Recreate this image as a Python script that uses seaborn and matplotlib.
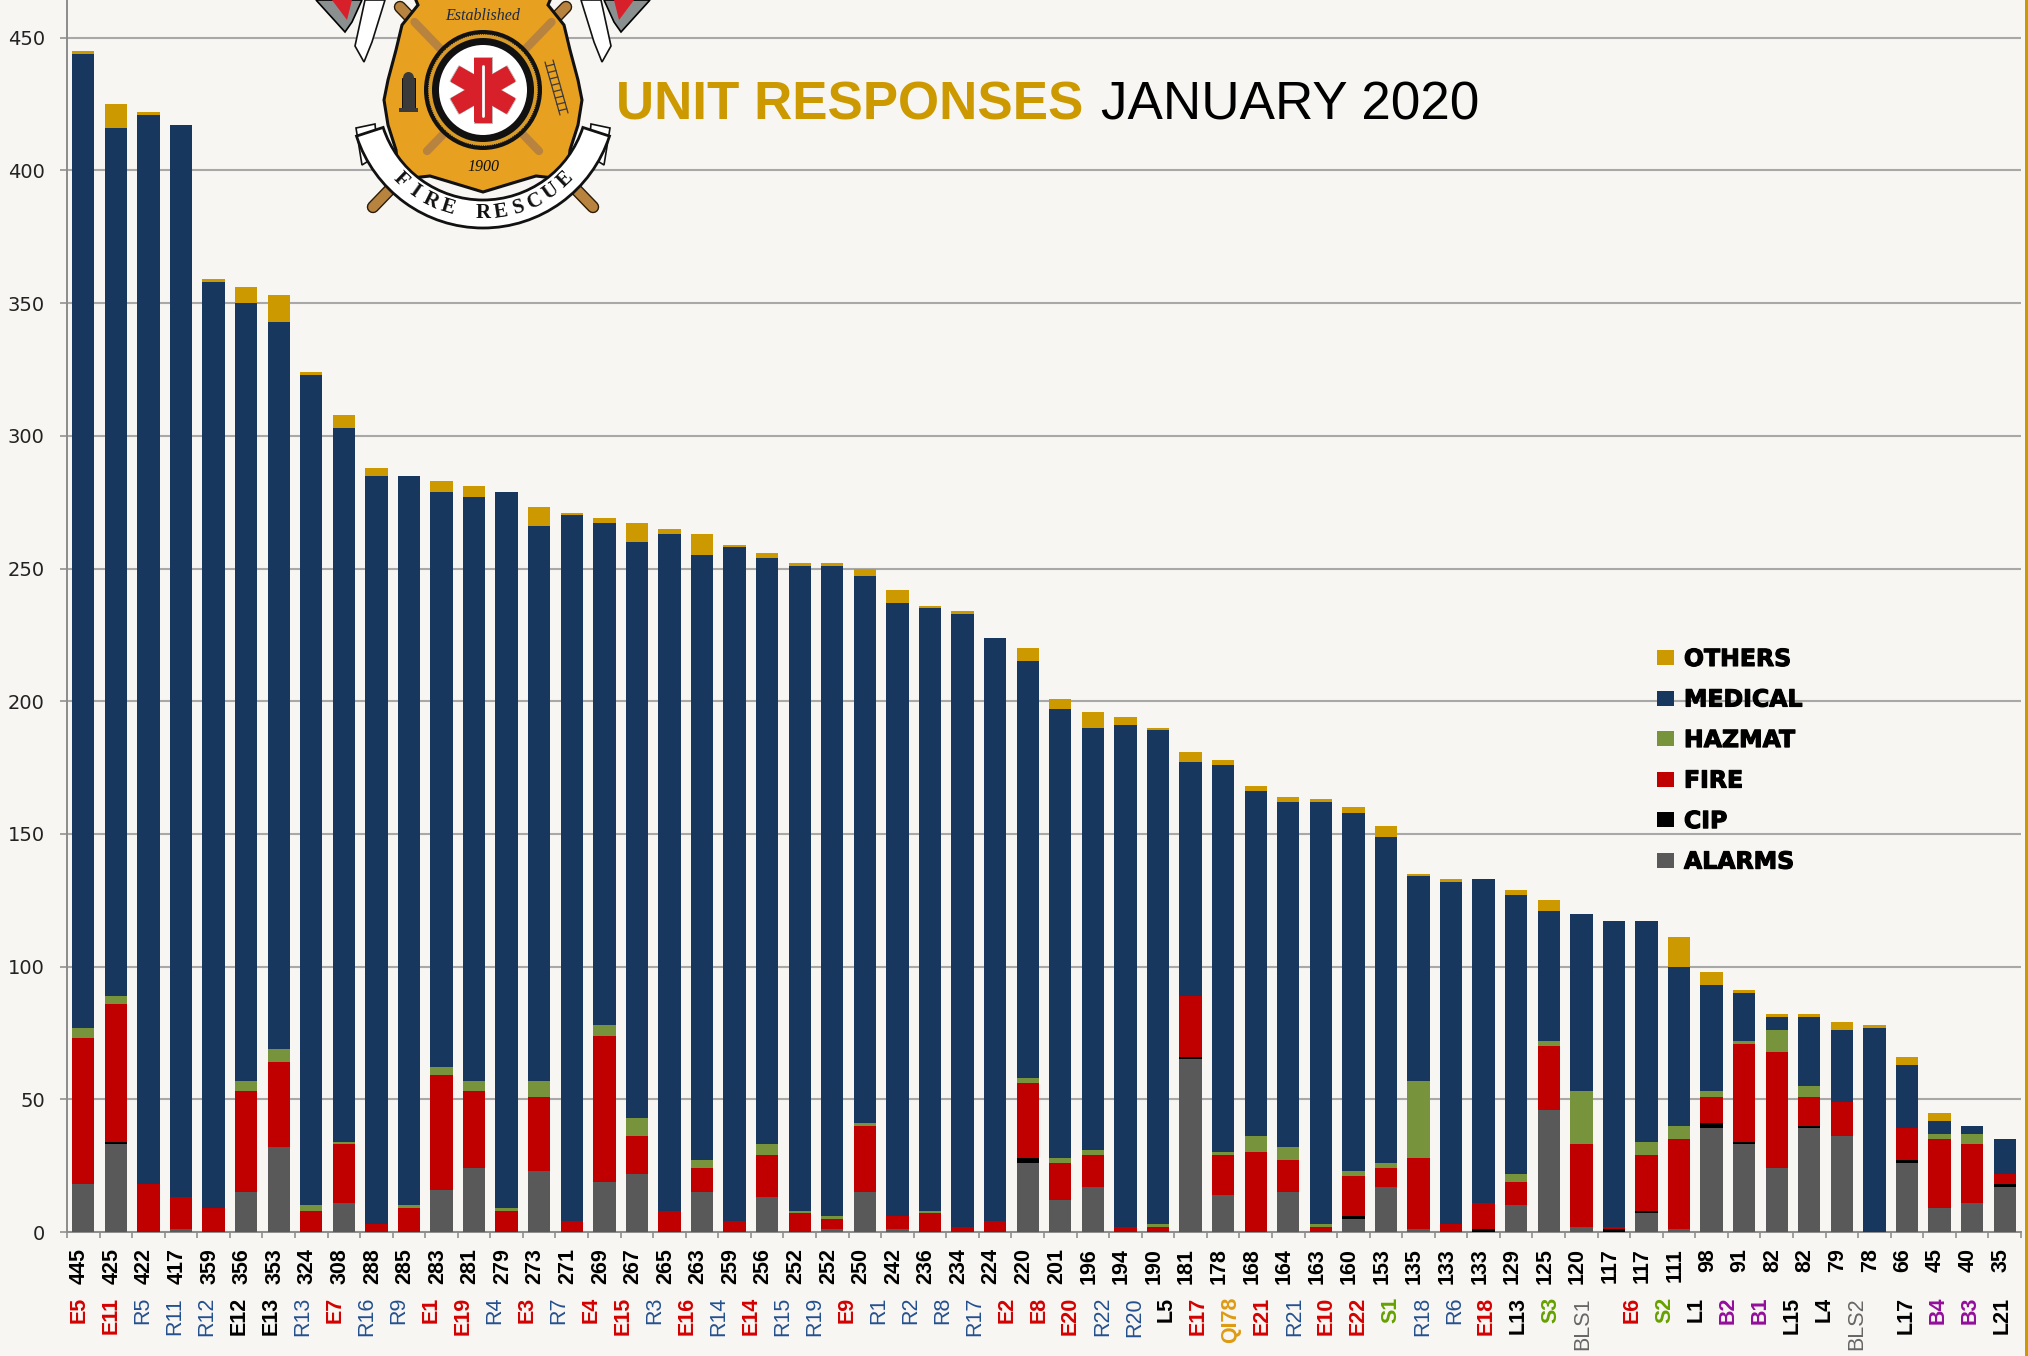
import numpy as np
import pandas as pd
import matplotlib
matplotlib.use("Agg")
import matplotlib.pyplot as plt
import seaborn as sns
from matplotlib.patches import Patch, Polygon, Ellipse, Rectangle, Wedge
from matplotlib.transforms import Affine2D
import matplotlib.patheffects as pe

totals = [445,425,422,417,359,356,353,324,308,288,285,283,281,279,273,271,269,267,265,263,
          259,256,252,252,250,242,236,234,224,220,201,196,194,190,181,178,168,164,163,160,
          153,135,133,133,129,125,120,117,117,111,98,91,82,82,79,78,66,45,40,35]
alarms = [18,33,0,1,0,15,32,0,11,0,0,16,24,0,23,0,19,22,0,15,
          0,13,0,1,15,1,0,0,0,26,12,17,0,0,65,14,0,15,0,5,
          17,1,0,0,10,46,2,0,7,1,39,33,24,39,36,0,26,9,11,17]
cip = [0,1,0,0,0,0,0,0,0,0,0,0,0,0,0,0,0,0,0,0,
       0,0,0,0,0,0,0,0,0,2,0,0,0,0,1,0,0,0,0,1,
       0,0,0,1,0,0,0,1,1,0,2,1,0,1,0,0,1,0,0,1]
fire = [55,52,18,12,9,38,32,8,22,3,9,43,29,8,28,4,55,14,8,9,
        4,16,7,4,25,5,7,2,4,28,14,12,2,2,23,15,30,12,2,15,
        7,27,3,10,9,24,31,1,21,34,10,37,44,11,13,0,12,26,22,4]
hazmat = [4,3,0,0,0,4,5,2,1,0,1,3,4,1,6,0,4,7,0,3,
          0,4,1,1,1,0,1,0,0,2,2,2,0,1,0,1,6,5,1,2,
          2,29,0,0,3,2,20,0,5,5,2,1,8,4,0,0,0,2,4,0]
medical = [367,327,403,404,349,293,274,313,269,282,275,217,220,270,209,266,189,217,255,228,
           254,221,243,245,206,231,227,231,220,157,169,159,189,186,88,146,130,130,159,135,
           123,77,129,122,105,49,67,115,83,60,40,18,5,26,27,77,24,5,3,13]
others = [1,9,1,0,1,6,10,1,5,3,0,4,4,0,7,1,2,7,2,8,
          1,2,1,1,3,5,1,1,0,5,4,6,3,1,4,2,2,2,1,2,
          4,1,1,0,2,4,0,0,0,11,5,1,1,1,3,1,3,3,0,0]
units = ["E5","E11","R5","R11","R12","E12","E13","R13","E7","R16","R9","E1","E19","R4","E3","R7","E4","E15","R3","E16",
         "R14","E14","R15","R19","E9","R1","R2","R8","R17","E2","E8","E20","R22","R20","L5","E17","QI78","E21","R21","E10",
         "E22","S1","R18","R6","E18","L13","S3","BLS1","E6","S2","L1","B2","B1","L15","L4","BLS2","L17","B4","B3","L21"]
unit_slots = list(range(48)) + [48.56,49.56,50.56,51.56,52.56,53.56,54.56,55.56,57.1,58.1,59.1,60.1]
black_engines = ["E12","E13"]
series_names = ["ALARMS","CIP","FIRE","HAZMAT","MEDICAL","OTHERS"]
series_colors = ["#595959","#000000","#C00000","#77933C","#17375E","#CC9900"]
unit_colors = {"E":"#D40000","R":"#24508F","L":"#000000","S":"#66A000","B":"#930E9B","Q":"#DF9A12","BLS":"#666666"}
y_ticks = [0,50,100,150,200,250,300,350,400,450]

W, H = 2028, 1356
BG = "#F7F6F2"
sns.set_theme(style="white")
plt.rcParams["font.family"] = ["Liberation Sans", "DejaVu Sans"]

fig = plt.figure(figsize=(W/100, H/100), dpi=100, facecolor=BG)
ax = fig.add_axes([67/W, 1-1232/H, (2021-67)/W, 1232/H], facecolor="none")

df = pd.DataFrame({"pos":range(len(totals)),"ALARMS":alarms,"CIP":cip,"FIRE":fire,
                   "HAZMAT":hazmat,"MEDICAL":medical,"OTHERS":others})
cum = df[series_names].cumsum(axis=1)
cum["pos"] = df["pos"]
for name, col in reversed(list(zip(series_names, series_colors))):
    sns.barplot(data=cum, x="pos", y=name, color=col, saturation=1, width=0.685,
                errorbar=None, ax=ax, zorder=3, linewidth=0)

ax.set_xlim(-0.5, len(totals)-0.5)
ax.set_ylim(0, 1232/2.654)
ax.set_xlabel(""); ax.set_ylabel("")
ax.set_yticks(y_ticks)
ax.set_yticklabels([str(v) for v in y_ticks], fontsize=14, family="DejaVu Sans", color="#222222")
ax.set_xticks(np.arange(-0.5, len(totals), 1))
ax.set_xticklabels([])
ax.tick_params(axis="x", length=4.5, width=1.2, color="#909090", bottom=True)
ax.tick_params(axis="y", length=5, width=1.4, color="#A0A0A0", pad=11, left=True)
ax.grid(axis="y", color="#A8A8A8", lw=1.5, zorder=0)
ax.set_axisbelow(True)
for s in ["top","right"]:
    ax.spines[s].set_visible(False)
for s in ["left","bottom"]:
    ax.spines[s].set_color("#8C8C8C"); ax.spines[s].set_linewidth(1.4)

def unit_color(u):
    if u in black_engines:
        return "#000000"
    return unit_colors["BLS"] if u.startswith("BLS") else unit_colors[u[0]]

trans = ax.get_xaxis_transform()
for i, t in enumerate(totals):
    ax.annotate(str(t), xy=(i, 0), xycoords=trans, xytext=(-4, -16), textcoords="offset pixels",
                rotation=90, ha="center", va="top", fontsize=15.5, fontweight="bold", color="black",
                annotation_clip=False)
for u, k in zip(units, unit_slots):
    ax.annotate(u, xy=(k*0.9825-0.14, 0), xycoords=trans, xytext=(0, -65), textcoords="offset pixels",
                rotation=90, ha="center", va="top", fontsize=15.5,
                fontweight="normal" if u[0]=="R" or u.startswith("BLS") else "bold",
                color=unit_color(u), annotation_clip=False)

handles = [Patch(facecolor=c, edgecolor="none") for c in reversed(series_colors)]
labels = list(reversed(series_names))
leg = ax.legend(handles, labels, loc="upper left", bbox_to_anchor=(1657/W, 1-647/H),
                bbox_transform=fig.transFigure, frameon=False, borderpad=0, borderaxespad=0,
                handlelength=0.72, handleheight=0.58, handletextpad=0.42, labelspacing=0.70,
                prop={"family":"DejaVu Sans","weight":"bold","size":17})
for t in leg.get_texts():
    t.set_path_effects([pe.withStroke(linewidth=0.8, foreground="black")])
    t.set_color("black")

fig.text(616/W, 1-120/H, "UNIT RESPONSES", color="#CC9900", fontsize=38.1, fontweight="bold", va="baseline", ha="left")
fig.text(1101/W, 1-120/H, "JANUARY 2020", color="black", fontsize=38.2, va="baseline", ha="left")

# Right edge strip
fig.add_artist(Rectangle((2025/W, 0), 3/W, 1, transform=fig.transFigure, color="#CC9900", lw=0))

# Department badge, drawn in pixel coordinates
lg = fig.add_axes([0, 0, 1, 1], facecolor="none")
lg.set_xlim(0, W); lg.set_ylim(H, 0); lg.axis("off")
cx, cy = 483, 90
def mirror(p):
    return [(2*cx-x, y) for x, y in p]
# axe heads
head = [(316,0),(345,32),(352,22),(362,0)]
for p in (head, mirror(head)):
    lg.add_patch(Polygon(p, fc="#8A8F90", ec="black", lw=1.2, zorder=2))
red = [(332,0),(347,20),(352,0)]
for p in (red, mirror(red)):
    lg.add_patch(Polygon(p, fc="#D8202A", ec="none", zorder=3))
# shield
half = [(415,-2),(418,5),(402,25),(396,50),(388,80),(384,100),(388,125),(396,150),(398,170),
        (412,178),(430,176),(450,182),(483,192)]
shield = half + mirror(half)[::-1][1:]
lg.add_patch(Polygon(shield, fc="#E8A020", ec="#111111", lw=2.2, zorder=4))
# axe handles
for a, b in (((400,7),(593,207)), ((566,7),(373,207))):
    lg.plot([a[0],b[0]], [a[1],b[1]], color="#B8833F", lw=7, solid_capstyle="round", zorder=3,
            path_effects=[pe.withStroke(linewidth=9, foreground="#2A1A08")])
    mid = (np.array(a)+np.array(b))/2
    lg.plot([a[0]+(mid[0]-a[0])*0.15, mid[0]], [a[1]+(mid[1]-a[1])*0.15, mid[1]], color="#B8833F", lw=6, zorder=5)
    lg.plot([mid[0], a[0]+(b[0]-a[0])*0.72], [mid[1], a[1]+(b[1]-a[1])*0.72], color="#B8833F", lw=6, zorder=5)
# emblem rings
lg.add_patch(Ellipse((cx,cy), 118, 120, fc="#111111", ec="none", zorder=6))
lg.add_patch(Ellipse((cx,cy), 110, 112, fc="#D89A28", ec="#111111", lw=0.8, ls=(0,(1,1)), zorder=7))
lg.add_patch(Ellipse((cx,cy), 102, 104, fc="#111111", ec="none", zorder=8))
lg.add_patch(Ellipse((cx,cy), 88, 90, fc="white", ec="none", zorder=9))
# star of life
for ang in (0, 60, 120):
    tr = Affine2D().rotate_deg_around(cx, cy, ang) + lg.transData
    lg.add_patch(Rectangle((cx-9, cy-33), 18, 66, fc="#D8202A", ec="#BBBBBB", lw=0.6, transform=tr, zorder=10))
for ang in (0, 60, 120):
    tr = Affine2D().rotate_deg_around(cx, cy, ang) + lg.transData
    lg.add_patch(Rectangle((cx-9, cy-32), 18, 64, fc="#D8202A", ec="none", transform=tr, zorder=11))
lg.plot([cx, cx], [cy-24, cy+26], color="white", lw=2, zorder=12)
# hydrant and ladder
lg.add_patch(Rectangle((402,78), 13, 33, fc="#3A3A3A", ec="black", lw=0.6, zorder=6))
lg.add_patch(Ellipse((408.5,78), 11, 12, fc="#3A3A3A", ec="none", zorder=6))
lg.add_patch(Rectangle((399,108), 19, 4, fc="#3A3A3A", ec="none", zorder=6))
lg.plot([545,560],[62,115], color="#3A3A3A", lw=0.9, zorder=6)
lg.plot([553,568],[60,113], color="#3A3A3A", lw=0.9, zorder=6)
for f in np.arange(0.08, 1, 0.12):
    lg.plot([545+15*f, 553+15*f], [62+53*f, 60+53*f], color="#3A3A3A", lw=0.9, zorder=6)
lg.text(cx, 16, "Established", fontsize=11.5, style="italic", family="Liberation Serif", color="#1C2A44",
        ha="center", va="center", zorder=6)
lg.text(cx, 167, "1900", fontsize=11.5, style="italic", family="Liberation Serif", color="#111111",
        ha="center", va="center", zorder=6)
# ribbons
rib_top = [(365,0),(385,0),(372,42),(364,62),(355,46)]
for p in (rib_top, mirror(rib_top)):
    lg.add_patch(Polygon(p, fc="white", ec="#111111", lw=1.2, zorder=7))
rib_low = [(356,128),(375,124),(378,155),(362,165)]
for p in (rib_low, mirror(rib_low)):
    lg.add_patch(Polygon(p, fc="white", ec="#111111", lw=1.2, zorder=7))
lg.add_patch(Wedge((cx, 95), 133, 18, 162, width=28, fc="white", ec="#111111", lw=2, zorder=8))
letters = "FIRE RESCUE"
for ch, th in zip(letters, np.linspace(134, 46, len(letters))):
    r = np.radians(th)
    lg.text(cx+118*np.cos(r), 95+118*np.sin(r), ch, rotation=90-th, rotation_mode="anchor",
            ha="center", va="center", fontsize=15, fontweight="bold", family="Liberation Serif",
            color="#111111", zorder=9)

fig.savefig("out.png", dpi=100, facecolor=BG)
